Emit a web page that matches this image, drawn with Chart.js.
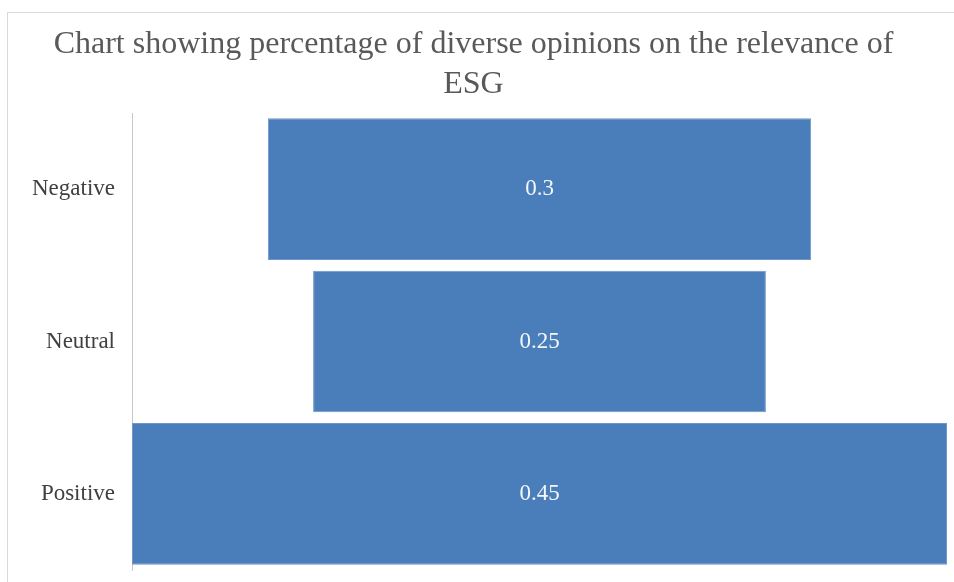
<!DOCTYPE html>
<html>
<head>
<meta charset="utf-8">
<script src="https://cdn.jsdelivr.net/npm/chart.js@4/dist/chart.umd.min.js"></script>
<style>
  html, body { margin: 0; padding: 0; background: #fff; }
  #wrap { position: relative; width: 954px; height: 582px; overflow: hidden; }
  #frame { position: absolute; left: 7px; top: 12px; width: 1000px; height: 600px; border: 1px solid #d9d9d9; }
  #chart { position: absolute; left: 0; top: 0; }
</style>
</head>
<body>
<div id="wrap">
  <div id="frame"></div>
  <canvas id="chart" width="954" height="582"></canvas>
</div>
<script>
const TITLE_LINES = ['Chart showing percentage of diverse opinions on the relevance of', 'ESG'];
const CATEGORIES = ['Negative', 'Neutral', 'Positive'];
const SHARES = [0.3, 0.25, 0.45];

const BAR_COLOR = '#4a7ebb';
const SERIF = "'Liberation Serif', 'Times New Roman', serif";

// funnel style: each bar is centred on half of the largest share
const maxShare = Math.max(...SHARES);
const floating = SHARES.map((v) => [(maxShare - v) / 2, (maxShare + v) / 2]);

const valueLabels = {
  id: 'valueLabels',
  afterDatasetsDraw: (chart) => {
    const ctx = chart.ctx;
    const meta = chart.getDatasetMeta(0);
    ctx.save();
    ctx.fillStyle = '#f4f6fa';
    ctx.font = '23px ' + SERIF;
    ctx.textAlign = 'center';
    ctx.textBaseline = 'middle';
    meta.data.forEach((bar, i) => {
      const { x, base, y } = bar.getProps(['x', 'base', 'y'], true);
      ctx.fillText(String(SHARES[i]), (x + base) / 2, y);
    });
    ctx.restore();
  },
};

new Chart(document.getElementById('chart'), {
  type: 'bar',
  data: {
    labels: CATEGORIES,
    datasets: [
      {
        data: floating,
        backgroundColor: BAR_COLOR,
        borderColor: '#6f97c9',
        borderWidth: 1,
        borderSkipped: false,
        barPercentage: 0.93,
        categoryPercentage: 1,
      },
    ],
  },
  plugins: [valueLabels],
  options: {
    indexAxis: 'y',
    responsive: false,
    animation: false,
    layout: {
      padding: { top: 12, right: 7, bottom: 12, left: 0 },
    },
    scales: {
      x: {
        display: false,
        min: 0,
        max: maxShare,
      },
      y: {
        afterFit: (scale) => {
          scale.width = 132;
          // no extra room for the first/last label, the layout padding handles it
          scale.paddingTop = 0;
          scale.paddingBottom = 0;
        },
        grid: { display: false, drawTicks: false },
        border: { display: true, color: '#c8c8c8', dash: [3, 2] },
        ticks: {
          color: '#404040',
          padding: 17,
          font: { family: SERIF, size: 23 },
        },
      },
    },
    plugins: {
      legend: { display: false },
      tooltip: { enabled: false },
      title: {
        display: true,
        text: TITLE_LINES,
        color: '#595959',
        font: { family: SERIF, size: 32, weight: 'normal', lineHeight: 1.25 },
        padding: { top: 13, bottom: 8 },
      },
    },
  },
});
</script>
</body>
</html>
